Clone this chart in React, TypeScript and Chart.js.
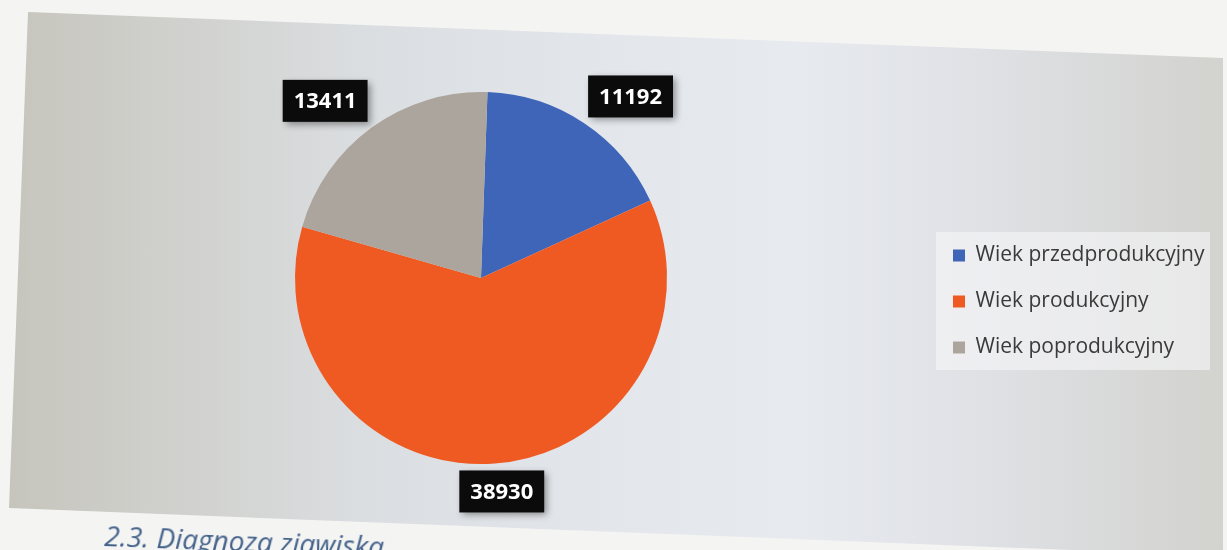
import React, { useEffect, useRef } from "react";
import { Chart, registerables } from "chart.js";

Chart.register(...registerables);

const categories = ["Wiek przedprodukcyjny", "Wiek produkcyjny", "Wiek poprodukcyjny"];
const values = [11192, 38930, 13411];
const sliceColors = ["#3e65b7", "#ef5a22", "#aba59d"];

const valueBoxes = {
  id: "valueBoxes",
  afterDatasetsDraw(chart: any) {
    const ctx = chart.ctx;
    const meta = chart.getDatasetMeta(0);
    const data = chart.data.datasets[0].data;
    const clamp = (v: number) => Math.max(-1, Math.min(1, v));
    ctx.save();
    ctx.font = "bold 22px 'Open Sans'";
    meta.data.forEach((arc: any, i: number) => {
      const p = arc.getProps(["x", "y", "startAngle", "endAngle", "outerRadius"], true);
      const mid = (p.startAngle + p.endAngle) / 2;
      const dx = Math.cos(mid);
      const dy = Math.sin(mid);
      const R = p.outerRadius + 7;
      const ax = p.x + dx * R;
      const ay = p.y + dy * R;
      const text = String(data[i]);
      const w = ctx.measureText(text).width + 22;
      const h = 42;
      const cx = ax + (w / 2) * clamp(dx * 2);
      const cy = ay + (h / 2) * clamp(dy * 2);
      ctx.shadowColor = "rgba(0,0,0,0.4)";
      ctx.shadowBlur = 7;
      ctx.shadowOffsetX = 3;
      ctx.shadowOffsetY = 3;
      ctx.fillStyle = "#0b0b0b";
      ctx.fillRect(cx - w / 2, cy - h / 2, w, h);
      ctx.shadowColor = "transparent";
      ctx.shadowBlur = 0;
      ctx.shadowOffsetX = 0;
      ctx.shadowOffsetY = 0;
      ctx.fillStyle = "#ffffff";
      ctx.textAlign = "center";
      ctx.textBaseline = "middle";
      ctx.fillText(text, cx, cy + 1);
    });
    ctx.restore();
  },
};

const legendPlacement = {
  id: "legendPlacement",
  afterLayout(chart: any) {
    const lg = chart.legend;
    if (!lg) return;
    const w = lg.width;
    const h = lg.height;
    lg.left = 928;
    lg.top = 220;
    lg.right = lg.left + w;
    lg.bottom = lg.top + h;
  },
  beforeDraw(chart: any) {
    const lg = chart.legend;
    if (!lg) return;
    const ctx = chart.ctx;
    ctx.save();
    ctx.fillStyle = "rgba(246,246,248,0.6)";
    ctx.fillRect(lg.left + 8, lg.top + 12, 274, 138);
    ctx.restore();
  },
};

export default function App() {
  const canvasRef = useRef<HTMLCanvasElement | null>(null);

  useEffect(() => {
    if (!canvasRef.current) return;
    const chart = new Chart(canvasRef.current, {
      type: "pie",
      data: {
        labels: categories,
        datasets: [
          {
            data: values,
            backgroundColor: sliceColors,
            borderWidth: 0,
          },
        ],
      },
      options: {
        responsive: false,
        animation: false,
        rotation: 2,
        layout: { padding: { left: 0, right: 265, top: 92, bottom: 86 } },
        plugins: {
          legend: {
            position: "chartArea",
            align: "start",
            labels: {
              boxWidth: 12,
              boxHeight: 12,
              padding: 25,
              color: "#3a3a3a",
              font: { family: "'Open Sans'", size: 21 },
            },
          },
          tooltip: { enabled: false },
        },
      } as any,
      plugins: [legendPlacement, valueBoxes],
    });
    return () => chart.destroy();
  }, []);

  return (
    <div
      style={{
        position: "fixed",
        left: 0,
        top: 0,
        width: 1227,
        height: 550,
        overflow: "hidden",
        background: "#f4f4f3",
      }}
    >
      <div
        style={{
          position: "absolute",
          left: 0,
          top: 0,
          width: 1227,
          height: 550,
          clipPath: "polygon(28px 12px, 1223px 58px, 1223px 556px, 9px 508px)",
          background:
            "linear-gradient(90deg, #c5c4bc 0%, #cdcdc8 10%, #dbdee1 30%, #e3e6eb 50%, #e7eaef 65%, #dfe1e5 80%, #d2d2ce 100%)",
        }}
      />
      <canvas
        ref={canvasRef}
        width={1227}
        height={550}
        style={{ position: "absolute", left: 0, top: 0, width: 1227, height: 550 }}
      />
      <div
        style={{
          position: "absolute",
          left: 105,
          top: 521,
          fontFamily: "'Open Sans', sans-serif",
          fontStyle: "italic",
          fontSize: 28,
          lineHeight: "28px",
          color: "#44628a",
          whiteSpace: "nowrap",
          transform: "rotate(2.2deg)",
          transformOrigin: "0 0",
        }}
      >
        2.3. Diagnoza zjawiska
      </div>
    </div>
  );
}
